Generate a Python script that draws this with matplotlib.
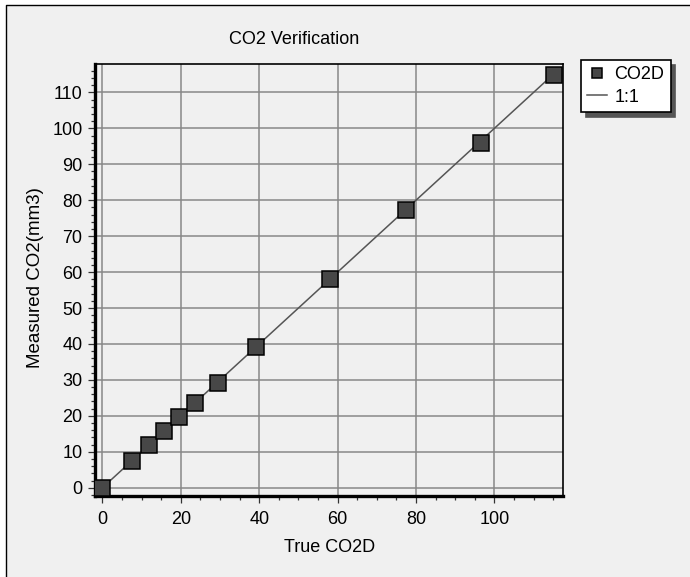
import matplotlib.pyplot as plt
from matplotlib.lines import Line2D
from matplotlib.patches import Rectangle
from matplotlib.ticker import MultipleLocator

plt.rcParams['font.family'] = ['Liberation Sans', 'DejaVu Sans']

# values
true_co2d = [0, 7.6, 12.0, 15.8, 19.6, 23.7, 29.5, 39.2, 58.0, 77.5, 96.6, 115.2]
measured_co2 = [0, 7.5, 12.0, 15.8, 19.7, 23.6, 29.2, 39.1, 58.0, 77.4, 96.0, 114.8]
one_to_one = [0, 115]

fig = plt.figure(figsize=(6.9, 5.77), dpi=100)
fig.patch.set_facecolor('white')

# grey panel, framed only on top and left (rest is cut off)
x0 = 6 / 690
y1 = 1 - 5 / 577
fig.add_artist(Rectangle((x0, 0), 1 - x0, y1, transform=fig.transFigure,
                         facecolor='#f0f0f0', edgecolor='none', zorder=-10))
fig.add_artist(Line2D([x0, x0, 1], [0, y1, y1], transform=fig.transFigure,
                      color='black', linewidth=1, zorder=-9))

ax = fig.add_axes([95 / 690, 1 - 496 / 577, (563 - 95) / 690, (496 - 64) / 577])
ax.set_facecolor('#f0f0f0')

ax.plot(one_to_one, one_to_one, color='#555555', linewidth=1.1, label='1:1', zorder=3)
ax.plot(true_co2d, measured_co2, linestyle='none', marker='s', markersize=11,
        markerfacecolor='#474747', markeredgecolor='black', markeredgewidth=1.1,
        label='CO2D', zorder=4)

ax.set_xlim(-1.9, 117.5)
ax.set_ylim(-2.3, 117.9)
ax.xaxis.set_major_locator(MultipleLocator(20))
ax.xaxis.set_minor_locator(MultipleLocator(5))
ax.yaxis.set_major_locator(MultipleLocator(10))
ax.yaxis.set_minor_locator(MultipleLocator(2))

ax.grid(True, which='major', color='#888888', linewidth=1.1)
ax.set_axisbelow(True)

for side in ['left', 'bottom']:
    ax.spines[side].set_linewidth(2.4)
for side in ['top', 'right']:
    ax.spines[side].set_linewidth(1.2)

ax.tick_params(axis='both', which='major', direction='out', length=5, width=0.9,
               color='#333333', labelsize=13)
ax.tick_params(axis='both', which='minor', direction='out', length=3, width=0.9,
               color='#333333')
ax.tick_params(axis='x', which='major', pad=6)
ax.tick_params(axis='y', which='major', pad=4)

fig.text(294 / 690, 1 - 40 / 577, 'CO2 Verification', ha='center', va='center', fontsize=13)
fig.text(330 / 690, 1 - 548 / 577, 'True CO2D', ha='center', va='center', fontsize=13)
fig.text(36 / 690, 1 - 278 / 577, 'Measured CO2(mm3)', ha='center', va='center',
         rotation=90, fontsize=13.5)

handles, labels = ax.get_legend_handles_labels()
leg = ax.legend(handles[::-1], labels[::-1], loc='upper left',
                bbox_to_anchor=(581 / 690, 1 - 60 / 577), bbox_transform=fig.transFigure,
                borderaxespad=0, fancybox=False, edgecolor='black', framealpha=1,
                facecolor='white', fontsize=13, markerscale=0.6, handlelength=1.1,
                handletextpad=0.4, borderpad=0.35, labelspacing=0.3,
                shadow={'ox': 3.5, 'oy': -3.5, 'color': '#555555', 'alpha': 1})
leg.get_frame().set_linewidth(1.2)

fig.savefig('out.png', dpi=100)
